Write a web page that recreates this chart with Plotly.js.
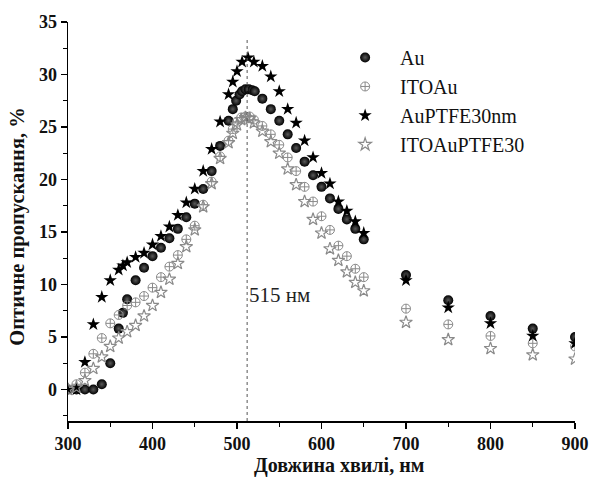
<!DOCTYPE html>
<html>
<head>
<meta charset="utf-8">
<script src="https://cdn.plot.ly/plotly-3.0.1.min.js"></script>
<style>
html,body{margin:0;padding:0;background:#fff;}
#chart{width:589px;height:479px;}
</style>
</head>
<body>
<div id="chart"></div>
<script>
// Wavelengths (nm) and optical transmission (%) for each sample
const auX = [300,310,320,330,340,350,360,365,370,380,390,400,410,420,430,440,450,460,470,480,490,495,499,503,506,510,514,518,521,530,540,550,560,570,580,590,600,610,620,630,640,650,700,750,800,850,900];
const auY = [0,0,0,0,0.5,2.5,5.8,7.3,8.6,10.4,11.6,12.7,13.5,14.4,15.3,16.4,17.7,19.1,20.8,23.2,25.6,26.7,27.5,28.1,28.4,28.6,28.6,28.5,28.4,27.7,26.7,25.6,24.3,23.0,21.7,20.4,19.3,18.2,17.2,16.2,15.3,14.3,10.9,8.5,7.0,5.8,5.0];

const itoAuX = [300,310,320,330,340,350,360,370,380,390,400,410,420,430,440,450,460,470,480,490,495,500,505,510,515,520,530,540,550,560,570,580,590,600,610,620,630,640,650,700,750,800,850,900];
const itoAuY = [0,0.5,1.6,3.4,4.9,6.3,7.1,8.0,8.3,8.9,9.7,10.7,11.7,12.8,14.3,15.6,17.6,19.8,22.2,23.7,24.8,25.5,25.9,26.0,26.0,25.7,25.1,24.3,23.3,22.1,20.8,19.3,17.9,16.5,15.2,13.7,12.7,11.5,10.7,7.7,6.2,5.1,4.4,4.1];

const auPtfeX = [300,310,320,330,340,350,360,365,370,380,390,400,410,420,430,440,450,460,470,480,490,495,500,506,513,520,530,540,550,560,570,580,590,600,610,620,630,640,650,700,750,800,850,900];
const auPtfeY = [0,0,2.6,6.2,8.8,10.4,11.4,11.8,12.1,12.6,13.0,13.8,14.6,15.5,16.6,17.8,19.1,20.8,22.9,25.5,28.1,29.3,30.3,31.2,31.6,31.2,30.8,29.8,28.4,26.7,25.4,23.7,22.1,20.6,19.6,17.9,17.0,16.0,14.9,10.4,7.8,6.3,5.1,4.4];

const itoAuPtfeX = [300,310,320,330,340,350,360,370,380,390,400,410,420,430,440,450,460,470,480,490,495,500,505,510,515,520,530,540,550,560,570,580,590,600,610,620,630,640,650,700,750,800,850,900];
const itoAuPtfeY = [0,0.2,0.85,2.0,3.1,4.1,4.9,5.5,6.1,7.0,8.0,9.25,10.5,12.0,13.6,15.2,17.4,19.6,22.0,23.5,24.4,25.2,25.7,25.9,25.8,25.4,24.6,23.6,22.5,21.0,19.5,17.9,16.2,14.9,13.4,12.3,11.2,10.2,9.4,6.4,4.75,3.9,3.3,2.9];

const seriesNames = ['Au','ITOAu','AuPTFE30nm','ITOAuPTFE30'];
const xTicks = [300,400,500,600,700,800,900];
const yTicks = [0,5,10,15,20,25,30,35];
const peakNm = 512;
const peakLabel = '515 нм';
const xTitle = 'Довжина хвилі, нм';
const yTitle = 'Оптичне пропускання, %';

const serif = '"Liberation Serif", "Times New Roman", serif';
const grey = '#8a8a8a';

const traces = [
  {x: auX, y: auY, name: seriesNames[0], type: 'scatter', mode: 'markers',
   marker: {symbol: 'circle', size: 10, color: '#000', gradient: {type: 'radial', color: '#5a5a5a'}, line: {width: 0}}},
  {x: itoAuX, y: itoAuY, name: seriesNames[1], type: 'scatter', mode: 'markers',
   marker: {symbol: 'circle-cross-open', size: 9, color: grey, line: {width: 1, color: grey}}},
  {x: auPtfeX, y: auPtfeY, name: seriesNames[2], type: 'scatter', mode: 'markers',
   marker: {symbol: 'star', size: 10, color: '#000', line: {width: 0}}},
  {x: itoAuPtfeX, y: itoAuPtfeY, name: seriesNames[3], type: 'scatter', mode: 'markers',
   marker: {symbol: 'star-open', size: 9.5, color: grey, line: {width: 1.2, color: grey}}}
];

const layout = {
  width: 589, height: 479,
  margin: {l: 68, r: 14, t: 22, b: 58},
  paper_bgcolor: '#fff', plot_bgcolor: '#fff',
  font: {family: serif, color: '#000'},
  showlegend: true,
  legend: {x: 0.517, y: 0.96, xanchor: 'left', yanchor: 'top', bgcolor: 'rgba(0,0,0,0)',
           font: {family: serif, size: 20, color: '#111'}, itemwidth: 60, tracegroupgap: 0},
  xaxis: {
    range: [300, 900], tickvals: xTicks, ticktext: xTicks.map(String),
    showgrid: false, zeroline: false, showline: true, linecolor: '#000', linewidth: 1.5,
    ticks: 'outside', ticklen: 6, tickwidth: 1.5, tickcolor: '#000',
    minor: {dtick: 50, tick0: 350, ticks: 'outside', ticklen: 4, tickwidth: 1.2, tickcolor: '#000', showgrid: false},
    tickfont: {family: serif, size: 18, color: '#111', weight: 'bold'}
  },
  yaxis: {
    range: [-3, 35], tickvals: yTicks, ticktext: yTicks.map(String),
    showgrid: false, zeroline: false, showline: true, linecolor: '#000', linewidth: 1.5,
    ticks: 'outside', ticklen: 6, tickwidth: 1.5, tickcolor: '#000',
    minor: {dtick: 2.5, tick0: -2.5, ticks: 'outside', ticklen: 4, tickwidth: 1.2, tickcolor: '#000', showgrid: false},
    tickfont: {family: serif, size: 18, color: '#111', weight: 'bold'}
  },
  shapes: [
    {type: 'line', xref: 'x', yref: 'y', x0: peakNm, x1: peakNm, y0: -3, y1: 33.5,
     line: {color: '#555', width: 1, dash: 'dot'}}
  ],
  annotations: [
    {x: peakNm, y: 9.0, xref: 'x', yref: 'y', text: peakLabel, showarrow: false,
     xanchor: 'left', yanchor: 'middle', xshift: 0, font: {family: serif, size: 21, color: '#222'}},
    {x: 0.535, y: -0.112, xref: 'paper', yref: 'paper', text: '<b>' + xTitle + '</b>', showarrow: false,
     xanchor: 'center', yanchor: 'middle', font: {family: serif, size: 20, color: '#111'}},
    {x: -0.0986, y: 0.487, xref: 'paper', yref: 'paper', text: '<b>' + yTitle + '</b>', showarrow: false,
     textangle: -90, xanchor: 'center', yanchor: 'middle', font: {family: serif, size: 20.5, color: '#111'}}
  ]
};

Plotly.newPlot('chart', traces, layout, {displayModeBar: false, staticPlot: true});
</script>
</body>
</html>
